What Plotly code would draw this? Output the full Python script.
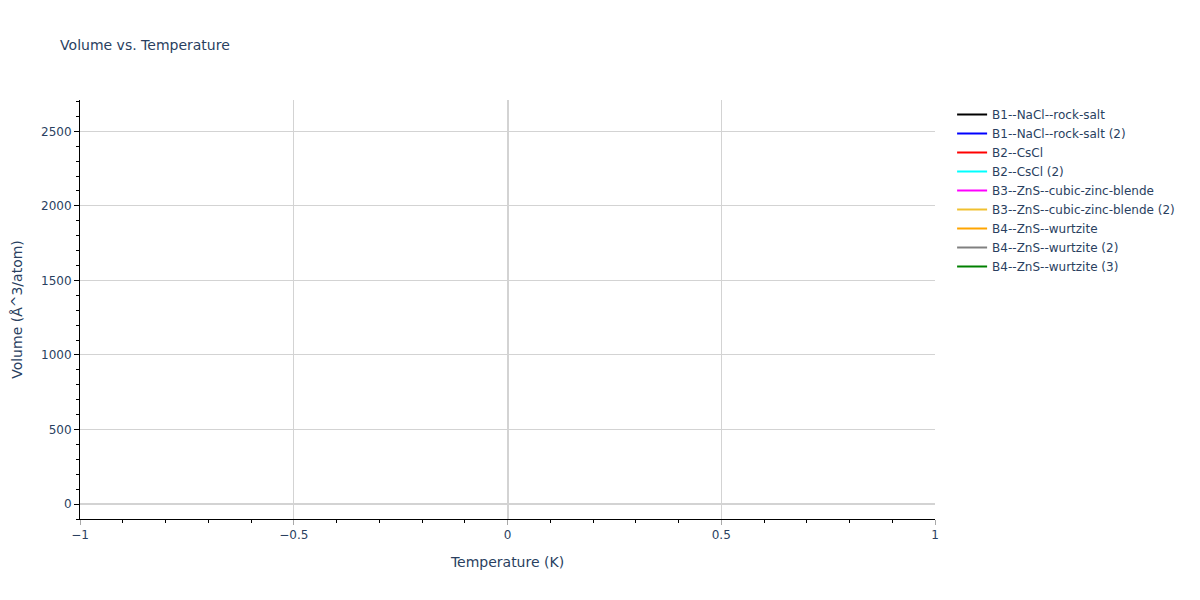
import plotly.graph_objects as go

# phase names and colours as shown in the legend; the series carry no visible points
phases = [
    "B1--NaCl--rock-salt",
    "B1--NaCl--rock-salt (2)",
    "B2--CsCl",
    "B2--CsCl (2)",
    "B3--ZnS--cubic-zinc-blende",
    "B3--ZnS--cubic-zinc-blende (2)",
    "B4--ZnS--wurtzite",
    "B4--ZnS--wurtzite (2)",
    "B4--ZnS--wurtzite (3)",
]
colors = ["black", "blue", "red", "cyan", "magenta", "#f0c030", "orange", "gray", "green"]
temperature = [None]
volume = [None]

fig = go.Figure()
for name, color in zip(phases, colors):
    fig.add_trace(go.Scatter(x=temperature, y=volume, mode="lines", name=name,
                             line=dict(color=color, width=2), showlegend=True))

axis_style = dict(showline=True, linecolor="black", gridcolor="lightgray",
                  zerolinecolor="lightgray", zerolinewidth=2,
                  ticks="outside", tickcolor="black", automargin=False,
                  minor=dict(ticks="outside", tickcolor="black", showgrid=False))

fig.update_layout(
    title=dict(text="Volume vs. Temperature", font=dict(size=14),
               x=0.044, y=0.937, yanchor="middle"),
    template="plotly_white",
    font=dict(family="DejaVu Sans", size=12, color="#2a3f5f"),
    xaxis=dict(title="Temperature (K)", range=[-1, 1], **axis_style),
    yaxis=dict(title="Volume (Å^3/atom)", range=[-100, 2710], **axis_style),
    showlegend=True,
    legend=dict(font=dict(size=12)),
    margin=dict(l=72, r=80, t=92, b=73),
)
fig.update_xaxes(tickcolor="darkgray")

fig.write_html("out.html")
